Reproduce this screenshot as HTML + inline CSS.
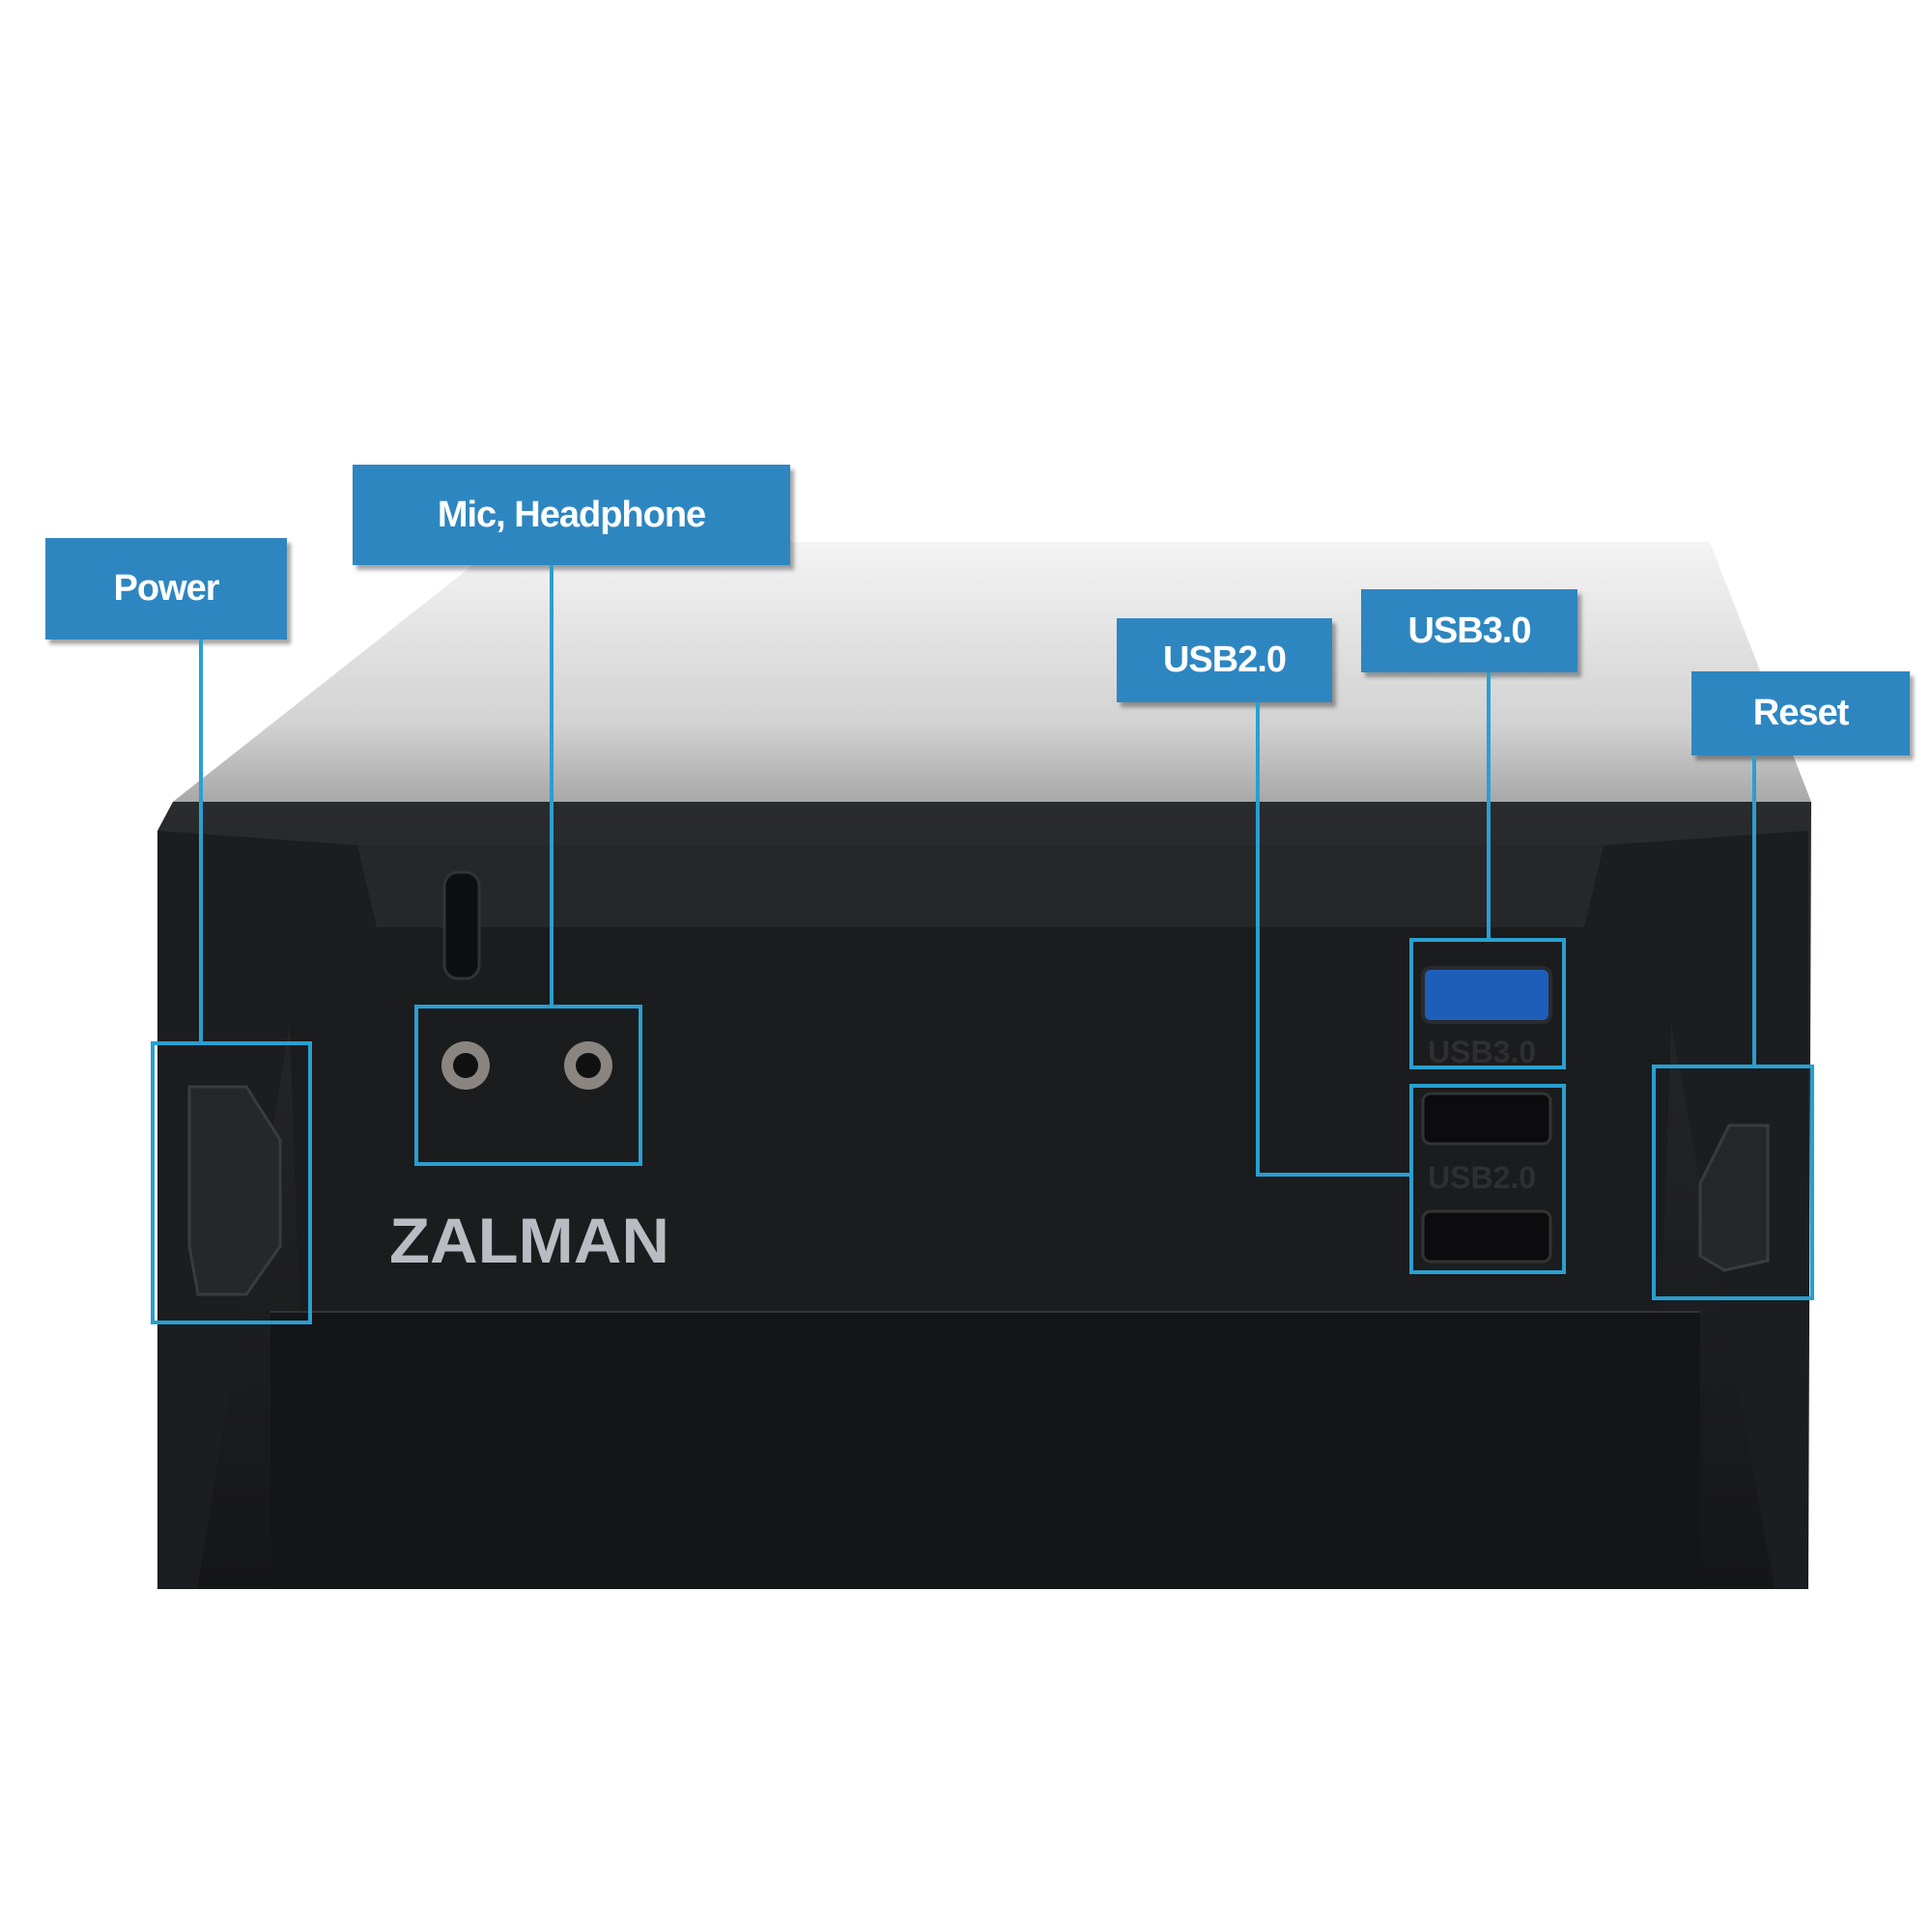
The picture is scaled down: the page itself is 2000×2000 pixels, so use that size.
<!DOCTYPE html>
<html><head><style>
body{margin:0;width:2000px;height:2000px;background:#fff;position:relative;overflow:hidden;font-family:"Liberation Sans",sans-serif}
.lb{position:absolute;background:#2e86c1;color:#fff;font-weight:bold;font-size:38px;display:flex;align-items:center;justify-content:center;box-shadow:4px 5px 4px rgba(0,0,0,.35);letter-spacing:-1px}
.hl{position:absolute;border:4px solid #2a9fd0;box-sizing:border-box}
.ln{position:absolute;background:#2a9fd0}
</style></head><body>
<svg width="2000" height="2000" style="position:absolute;left:0;top:0">
<defs>
<linearGradient id="top" x1="0" y1="0" x2="0" y2="1"><stop offset="0" stop-color="#f4f4f4"/><stop offset="0.7" stop-color="#d2d2d2"/><stop offset="1" stop-color="#a8a8a8"/></linearGradient>
<linearGradient id="body" x1="0" y1="0" x2="0" y2="1"><stop offset="0" stop-color="#2a2b2e"/><stop offset="1" stop-color="#151618"/></linearGradient>
</defs>
<polygon points="520,561 1770,561 1875,830 179,830" fill="url(#top)"/>
<polygon points="179,830 1875,830 1872,1645 204,1645 163,1400 163,860" fill="url(#body)"/>
<polygon points="163,860 370,875 390,960 300,1060 204,1645 163,1645" fill="#1c1d20"/>
<polygon points="1872,860 1660,875 1640,960 1730,1060 1837,1645 1872,1645" fill="#1c1d20"/>
<polygon points="370,875 1660,875 1640,960 390,960" fill="#262729"/>
<polygon points="300,1060 390,960 1640,960 1730,1060 1720,1358 310,1358" fill="#1b1c1e"/>
<rect x="280" y="1358" width="1480" height="287" fill="#141517"/>
<line x1="280" y1="1358" x2="1760" y2="1358" stroke="#333" stroke-width="2"/>
<rect x="460" y="903" width="36" height="110" rx="14" fill="#0e0f12" stroke="#333" stroke-width="3"/>
<circle cx="482" cy="1103" r="25" fill="#8a8580"/><circle cx="482" cy="1103" r="13" fill="#111"/>
<circle cx="609" cy="1103" r="25" fill="#8a8580"/><circle cx="609" cy="1103" r="13" fill="#111"/>
<polygon points="196,1125 255,1125 290,1180 290,1290 255,1340 205,1340 196,1290" fill="#26272a" stroke="#3a3b3e" stroke-width="3"/>
<polygon points="1830,1165 1790,1165 1760,1225 1760,1300 1785,1315 1830,1305" fill="#26272a" stroke="#3a3b3e" stroke-width="3"/>
<rect x="1473" y="1002" width="132" height="56" rx="8" fill="#1d5fb8" stroke="#2a2b2e" stroke-width="4"/>
<rect x="1473" y="1132" width="132" height="52" rx="8" fill="#0c0c0e" stroke="#333" stroke-width="3"/>
<rect x="1473" y="1254" width="132" height="52" rx="8" fill="#0c0c0e" stroke="#333" stroke-width="3"/>
<text x="1478" y="1100" font-family="Liberation Sans" font-weight="bold" font-size="32" fill="#2e2f32">USB3.0</text>
<text x="1478" y="1230" font-family="Liberation Sans" font-weight="bold" font-size="32" fill="#2e2f32">USB2.0</text>
<text x="403" y="1307" font-family="Liberation Sans" font-weight="bold" font-size="66" fill="#b9bcc2" textLength="290" lengthAdjust="spacingAndGlyphs">ZALMAN</text>
</svg>
<div class="lb" style="left:47px;top:557px;width:250px;height:105px">Power</div>
<div class="lb" style="left:365px;top:481px;width:453px;height:104px">Mic, Headphone</div>
<div class="lb" style="left:1156px;top:640px;width:223px;height:87px">USB2.0</div>
<div class="lb" style="left:1409px;top:610px;width:224px;height:86px">USB3.0</div>
<div class="lb" style="left:1751px;top:695px;width:226px;height:87px">Reset</div>
<div class="hl" style="left:156px;top:1078px;width:167px;height:293px"></div>
<div class="hl" style="left:429px;top:1040px;width:236px;height:167px"></div>
<div class="hl" style="left:1459px;top:971px;width:162px;height:136px"></div>
<div class="hl" style="left:1459px;top:1122px;width:162px;height:197px"></div>
<div class="hl" style="left:1710px;top:1102px;width:168px;height:244px"></div>
<div class="ln" style="left:206px;top:662px;width:4px;height:416px"></div>
<div class="ln" style="left:569px;top:585px;width:4px;height:455px"></div>
<div class="ln" style="left:1300px;top:727px;width:4px;height:491px"></div>
<div class="ln" style="left:1300px;top:1214px;width:160px;height:4px"></div>
<div class="ln" style="left:1539px;top:696px;width:4px;height:275px"></div>
<div class="ln" style="left:1814px;top:782px;width:4px;height:320px"></div>
</body></html>
